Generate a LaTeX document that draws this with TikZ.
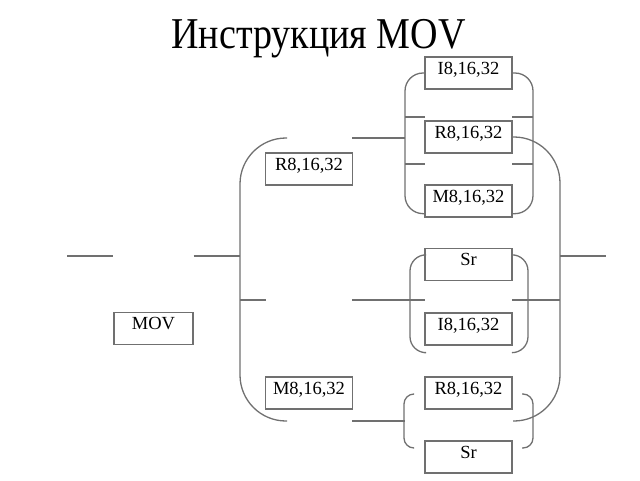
\documentclass[tikz,border=0pt]{standalone}
\usepackage{fontspec}
\setmainfont{Liberation Serif}
\definecolor{linegray}{RGB}{112,112,112}
\tikzset{
  box/.style={draw=linegray,line width=1.3pt,minimum width=87pt,minimum height=32pt,inner sep=0pt,
    font=\fontsize{18.5}{20}\selectfont,text height=.7em,text depth=.45em},
  wire/.style={draw=linegray,line width=1.3pt}
}
\begin{document}
\begin{tikzpicture}[x=1pt,y=-1pt]
\useasboundingbox (0,0) rectangle (640,480);
\node[anchor=base,font=\fontsize{44}{50}\selectfont] (title) at (318.5,48) {\scalebox{0.865}[1]{Инструкция MOV}};
\coordinate (in) at (67,256);
\coordinate (out) at (606,256);
\node[box,minimum width=79pt] (mov) at (153.5,328.5) {MOV};
\node[box] (reg) at (309,169) {R8,16,32};
\node[box] (mem) at (309,393) {M8,16,32};
	\begin{scope}[shift={(468.5,0)}]
	\node[box] (imm1) at (0,73) {I8,16,32};
	\node[box] (reg2) at (0,137) {R8,16,32};
	\node[box] (mem2) at (0,201) {M8,16,32};
	\node[box] (sr1) at (0,264.5) {Sr};
	\node[box] (imm2) at (0,329) {I8,16,32};
	\node[box] (reg3) at (0,393) {R8,16,32};
	\node[box] (sr2) at (0,457) {Sr};
	\end{scope}
\draw[wire] (in) -- (mov.west |- in);
\draw[wire] (mov.east |- in) -- (240,256);
\draw[wire,rounded corners=46pt] (287,138) -| (240,300) |- (287,421);
\draw[wire] (240,300) -- (266,300);
\draw[wire] (352,138) -- (405,138);
\draw[wire] (352,300) -- (425,300);
\draw[wire] (352,421) -- (405,421);
\draw[wire,rounded corners=18pt] (imm1.west) -| (405,140) |- ([yshift=4pt]mem2.south west);
\draw[wire,rounded corners=18pt] (imm1.east) -| (533,140) |- ([yshift=4pt]mem2.south east);
\draw[wire] (405,117) -- (425,117);
\draw[wire] (405,164) -- (425,164);
\draw[wire] (512,117) -- (533,117);
\draw[wire] (512,164) -- (533,164);
\draw[wire,rounded corners=16pt] ([yshift=-7pt]sr1.north west) -| (410,300) |- ([yshift=-7pt]imm2.south west);
\draw[wire,rounded corners=16pt] ([yshift=-7pt]sr1.north east) -| (528,300) |- ([yshift=-7pt]imm2.south east);
\draw[wire,rounded corners=10pt] (413,394) -| (404,420) |- (413,448);
\draw[wire,rounded corners=10pt] (522,394) -| (533,420) |- (522,448);
\draw[wire,rounded corners=46pt] (reg2.east) -| (560,300) |- (513,421);
\draw[wire] (512,300) -- (560,300);
\draw[wire] (560,256) -- (out);
\end{tikzpicture}
\end{document}
